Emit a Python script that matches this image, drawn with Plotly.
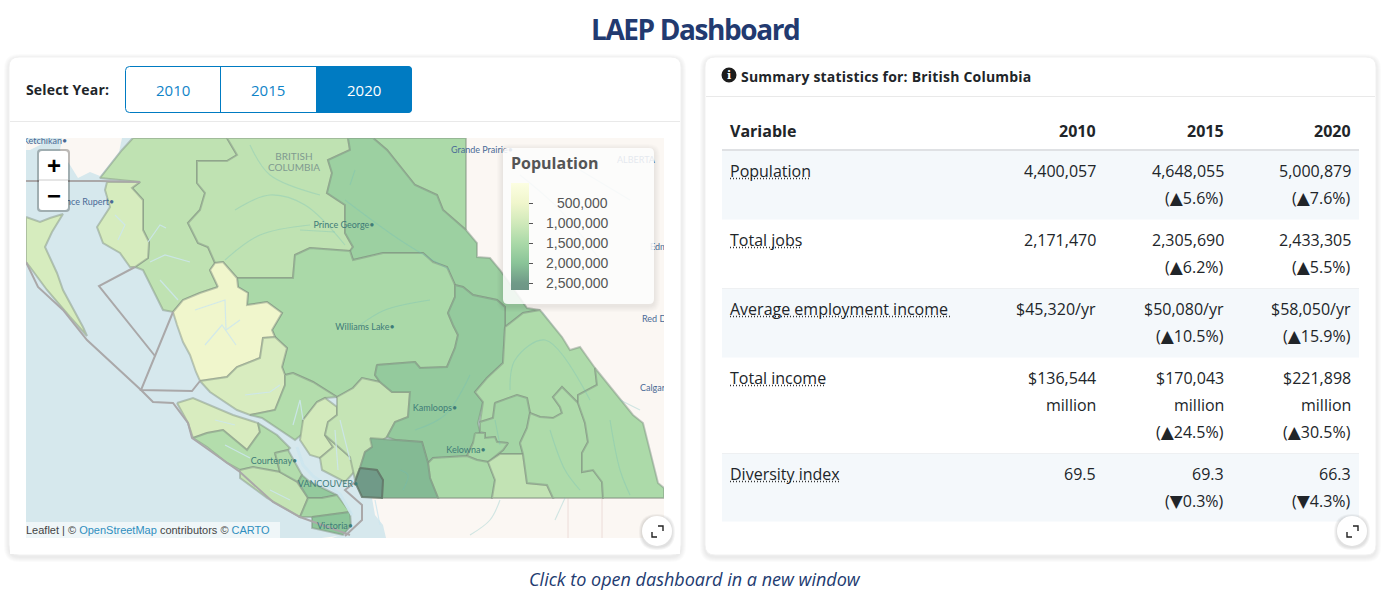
import plotly.graph_objects as go
from plotly.colors import sample_colorscale

# ---------- DATA ----------
dashboard_title = "LAEP Dashboard"
caption = "Click to open dashboard in a new window"
years = ["2010", "2015", "2020"]
selected_year = "2020"
card_heading = "Summary statistics for: British Columbia"

table_variables = ["Population", "Total jobs", "Average employment income", "Total income", "Diversity index"]
table_2010 = [["4,400,057"], ["2,171,470"], ["$45,320/yr"], ["$136,544", "million"], ["69.5"]]
table_2015 = [["4,648,055", "(▲5.6%)"], ["2,305,690", "(▲6.2%)"], ["$50,080/yr", "(▲10.5%)"],
              ["$170,043", "million", "(▲24.5%)"], ["69.3", "(▼0.3%)"]]
table_2020 = [["5,000,879", "(▲7.6%)"], ["2,433,305", "(▲5.5%)"], ["$58,050/yr", "(▲15.9%)"],
              ["$221,898", "million", "(▲30.5%)"], ["66.3", "(▼4.3%)"]]

legend_ticks = [500000, 1000000, 1500000, 2000000, 2500000]
legend_max = 2675000
scale_values = [0, 500000, 1000000, 1500000, 2000000, 2500000, 2675000]
scale_colors = ["rgb(252,254,226)", "rgb(240,246,204)", "rgb(208,233,186)", "rgb(170,217,168)",
                "rgb(138,196,152)", "rgb(112,154,136)", "rgb(110,150,134)"]

region_population = {
    "Kitimat-Stikine": 1230000, "Bulkley-Nechako": 1220000, "Fraser-Fort George": 1720000,
    "Peace River": 1480000, "Cariboo": 1500000, "Central Coast": 500000, "Skeena-Queen Charlotte": 900000,
    "Haida Gwaii": 900000, "Mount Waddington (mainland)": 870000, "Mount Waddington (island)": 870000,
    "Strathcona (mainland)": 1380000, "Strathcona (island)": 1380000, "Powell River": 950000,
    "Sunshine Coast": 1050000, "Squamish-Lillooet": 1150000, "Thompson-Nicola": 1850000,
    "Columbia-Shuswap": 1450000, "North Okanagan": 1600000, "Central Okanagan": 1550000,
    "Okanagan-Similkameen": 1500000, "Kootenay Boundary": 1180000, "Central Kootenay": 1450000,
    "East Kootenay": 1480000, "Fraser Valley": 2120000, "Metro Vancouver": 2500000,
    "Alberni-Clayoquot": 1150000, "Comox Valley": 1400000, "Nanaimo": 1850000,
    "Cowichan": 1550000, "Capital": 1950000,
}

region_outlines = {
    "Kitimat-Stikine": [(133,138),(227,138),(237,155),(227,161),(197,161),(197,183),(205,193),(200,210),(188,223),(198,243),(208,247),(215,263),(210,270),(218,287),(200,293),(183,300),(173,312),(163,310),(153,290),(143,270),(135,267),(148,258),(149,242),(143,230),(143,200),(132,188),(140,182),(100,178),(122,150)],
    "Bulkley-Nechako": [(227,138),(348,138),(350,150),(328,160),(332,173),(327,193),(345,205),(345,233),(353,247),(350,251),(310,248),(295,255),(293,278),(237,278),(223,262),(215,263),(208,247),(198,243),(188,223),(200,210),(205,193),(197,183),(197,161),(227,161),(237,155)],
    "Peace River": [(373,138),(466,138),(466,230),(443,210),(437,195),(415,185),(403,170),(387,150)],
    "Fraser-Fort George": [(348,138),(373,138),(387,150),(403,170),(415,185),(437,195),(443,210),(466,230),(477,243),(477,257),(490,258),(500,270),(527,308),(540,310),(523,313),(505,327),(505,307),(497,300),(473,295),(463,287),(455,285),(447,267),(433,262),(423,253),(383,253),(353,260),(350,251),(353,247),(345,233),(345,205),(327,193),(332,173),(328,160),(350,150)],
    "Cariboo": [(237,278),(293,278),(295,255),(310,248),(350,251),(353,260),(383,253),(423,253),(433,262),(447,267),(455,285),(455,297),(448,313),(453,325),(458,335),(455,348),(447,367),(420,368),(415,362),(377,365),(375,375),(380,382),(362,378),(353,388),(337,397),(313,382),(293,373),(285,375),(282,367),(287,348),(275,337),(272,330),(282,313),(267,302),(247,305),(248,293),(238,287)],
    "Central Coast": [(218,287),(210,270),(215,263),(223,262),(237,278),(238,287),(248,293),(247,305),(267,302),(282,313),(272,330),(275,337),(263,338),(260,358),(237,367),(227,377),(200,381),(196,372),(190,355),(183,342),(177,325),(173,312),(183,300),(200,293)],
    "Skeena-Queen Charlotte": [(107,182),(140,182),(132,188),(143,200),(143,230),(149,242),(148,258),(135,267),(130,267),(120,253),(103,243),(97,227),(110,207),(105,190)],
    "Haida Gwaii": [(26,217),(40,222),(50,218),(63,214),(52,232),(45,247),(57,273),(63,290),(83,327),(87,336),(70,317),(47,290),(30,267),(26,262)],
    "Mount Waddington (mainland)": [(200,381),(227,377),(237,367),(260,358),(263,338),(275,337),(287,348),(282,367),(285,375),(285,385),(275,410),(250,415),(237,410),(210,392)],
    "Mount Waddington (island)": [(177,403),(193,398),(233,415),(258,423),(260,432),(247,450),(223,430),(207,433),(193,438),(188,423)],
    "Strathcona (mainland)": [(285,375),(293,373),(313,382),(337,397),(325,398),(317,402),(303,420),(305,432),(295,440),(283,432),(262,418),(250,415),(275,410),(285,385)],
    "Strathcona (island)": [(193,438),(207,433),(223,430),(247,450),(260,432),(258,423),(277,435),(290,448),(288,450),(275,453),(280,472),(253,467),(240,470),(227,463),(207,447)],
    "Powell River": [(303,420),(317,402),(325,398),(337,407),(337,415),(328,422),(325,435),(333,447),(320,458),(310,455),(300,440)],
    "Sunshine Coast": [(325,435),(340,448),(350,457),(356,470),(345,482),(322,470),(320,458),(333,447)],
    "Squamish-Lillooet": [(337,397),(353,388),(362,378),(380,382),(392,392),(410,392),(408,417),(395,422),(387,437),(372,447),(365,452),(360,468),(355,480),(350,457),(340,448),(325,435),(328,422),(337,415),(337,407)],
    "Thompson-Nicola": [(377,365),(415,362),(420,368),(447,367),(455,348),(458,335),(453,325),(448,313),(455,297),(455,285),(463,287),(473,295),(497,300),(505,307),(505,327),(503,363),(487,378),(475,392),(483,402),(478,423),(480,432),(473,443),(467,456),(433,458),(428,463),(422,442),(395,440),(387,437),(395,422),(408,417),(410,392),(392,392),(380,382),(375,375)],
    "Columbia-Shuswap": [(505,327),(523,313),(540,310),(562,337),(570,350),(580,347),(595,368),(597,385),(578,395),(578,403),(570,395),(562,387),(553,397),(560,407),(562,413),(553,418),(540,417),(530,413),(527,398),(517,395),(495,403),(493,418),(480,422),(483,402),(475,392),(487,378),(503,363)],
    "North Okanagan": [(495,403),(517,395),(527,398),(530,413),(527,428),(520,443),(523,454),(500,454),(488,462),(503,450),(508,443),(497,442),(495,437),(485,438),(485,433),(480,432),(480,422),(493,418)],
    "Central Okanagan": [(475,433),(485,433),(485,438),(495,437),(497,442),(508,443),(503,450),(488,462),(477,460),(467,456),(473,443)],
    "Okanagan-Similkameen": [(430,478),(428,463),(433,458),(467,456),(477,460),(488,462),(495,480),(492,498),(438,498)],
    "Kootenay Boundary": [(488,462),(500,454),(523,454),(527,483),(547,485),(553,498),(492,498),(495,480)],
    "Central Kootenay": [(520,443),(527,428),(530,413),(540,417),(553,418),(562,413),(560,407),(553,397),(562,387),(570,395),(578,403),(585,423),(588,442),(582,453),(582,472),(593,470),(602,482),(603,498),(553,498),(547,485),(527,483),(523,454)],
    "East Kootenay": [(595,368),(617,395),(633,415),(643,423),(652,458),(658,483),(664,488),(664,498),(603,498),(602,482),(593,470),(582,472),(582,453),(588,442),(585,423),(578,403),(578,395),(597,385)],
    "Fraser Valley": [(370,438),(395,440),(422,442),(428,463),(430,478),(438,498),(382,498),(383,480),(377,470),(360,468),(365,452),(372,447)],
    "Metro Vancouver": [(360,468),(377,470),(383,480),(382,498),(362,497),(355,482)],
    "Alberni-Clayoquot": [(240,470),(253,467),(280,472),(297,482),(308,498),(300,517),(267,498),(240,478)],
    "Comox Valley": [(275,453),(288,450),(302,475),(298,482),(280,472)],
    "Nanaimo": [(298,482),(302,475),(310,482),(337,495),(322,498),(308,498)],
    "Cowichan": [(308,498),(322,498),(337,495),(350,512),(313,517),(300,517)],
    "Capital": [(312,517),(350,512),(351,526),(343,535),(312,528)],
}

land_outlines = [
    [(466,138),(664,138),(664,488),(658,483),(652,458),(643,423),(633,415),(617,395),(595,368),(580,347),(570,350),(562,337),(543,312),(527,308),(500,270),(490,258),(477,257),(477,243),(466,230)],
    [(372,498),(664,498),(664,538),(386,538),(383,525),(375,515)],
    [(62,138),(122,138),(119,152),(100,176),(90,172),(78,178),(70,165),(60,150)],
    [(26,142),(42,144),(30,150),(26,150)],
    [(305,540),(338,536),(326,540)],
]

marine_lines = [
    [(26,181),(100,181),(140,182)],
    [(135,267),(99,286),(155,356)],
    [(173,312),(141,390),(192,391),(200,381)],
    [(26,262),(38,287),(63,310),(87,340),(141,390),(153,402),(173,403),(188,423),(192,438),(240,472),(273,502),(300,517),(350,535)],
    [(355,482),(345,490),(362,505),(362,520),(345,536)],
]

strait_channels = [
    [(297,447),(303,465),(313,476),(340,494),(352,515)],
]
water_channels = [
    [(148,242),(160,225),(166,228)],
    [(150,262),(165,255),(190,262)],
    [(160,280),(178,300)],
    [(195,310),(225,300),(226,330),(240,320)],
    [(205,345),(222,325),(236,345)],
    [(293,425),(300,400),(303,420)],
    [(245,395),(270,392),(280,385)],
    [(335,430),(338,470)],
    [(340,420),(350,460)],
    [(375,500),(380,525)],
    [(115,215),(125,225),(118,240)],
    [(215,420),(235,425)],
    [(225,445),(250,458)],
    [(270,490),(290,500)],
]
rivers = [
    [(235,210),(270,195),(305,205),(345,245)],
    [(250,145),(270,175),(320,195)],
    [(225,260),(260,235),(310,225)],
    [(300,230),(335,232)],
    [(345,200),(400,240),(450,270)],
    [(355,170),(350,185)],
    [(360,325),(385,310),(430,300)],
    [(400,470),(408,475),(403,490)],
    [(415,430),(445,415),(470,375)],
    [(510,390),(515,360),(545,340),(590,400)],
    [(550,430),(565,470),(580,490)],
    [(610,420),(620,470),(630,495)],
    [(495,420),(500,445)],
    [(555,520),(565,498)],
    [(470,535),(490,520),(500,500)],
    [(520,175),(560,210),(600,260)],
    [(580,170),(630,200)],
    [(620,400),(640,410)],
]
state_lines = [[(372,498),(664,498)], [(568,498),(568,538)], [(602,498),(602,538)]]

city_labels = ["Ketchikan•", "nce Rupert•", "Grande Prairie•", "ALBERTA", "Edmo", "Red Deer", "Calgary"]
city_x = [23, 66, 451, 617, 650, 642, 640]
city_y = [142, 203, 151, 161, 248, 320, 389]
bc_labels = ["BRITISH", "COLUMBIA", "Prince George•", "Williams Lake•", "Kamloops•", "Kelowna•", "Courtenay•", "VANCOUVER•", "Victoria•"]
bc_x = [294, 294, 344, 365, 435, 466, 274, 328, 335]
bc_y = [157, 168, 226, 328, 409, 451, 462, 485, 527]

# ---------- HELPERS ----------
NAVY = "#223a70"
INK = "#212529"
T_FONT = "Open Sans"

stops_rev = [((legend_max - v) / legend_max, c) for v, c in zip(scale_values, scale_colors)][::-1]
colorscale = [[p, c] for p, c in stops_rev]


def pop_color(v):
    return sample_colorscale(colorscale, [(legend_max - v) / legend_max], colortype="rgb")[0]


def rrect(x0, y0, x1, y1, r):
    return (f"M{x0+r},{y0} L{x1-r},{y0} Q{x1},{y0} {x1},{y0+r} L{x1},{y1-r} Q{x1},{y1} {x1-r},{y1} "
            f"L{x0+r},{y1} Q{x0},{y1} {x0},{y1-r} L{x0},{y0+r} Q{x0},{y0} {x0+r},{y0} Z")


shapes, annotations = [], []


def add_path(path, fill="rgba(0,0,0,0)", line=None, width=0, layer="below"):
    shapes.append(dict(type="path", path=path, xref="x", yref="y", fillcolor=fill, layer=layer,
                       line=dict(color=line or "rgba(0,0,0,0)", width=width)))


def add_rect(x0, y0, x1, y1, fill, layer="below"):
    shapes.append(dict(type="rect", xref="x", yref="y", x0=x0, y0=y0, x1=x1, y1=y1, fillcolor=fill,
                       layer=layer, line=dict(width=0)))


def add_line(x0, y0, x1, y1, color, width=1, dash="solid", layer="below"):
    shapes.append(dict(type="line", xref="x", yref="y", x0=x0, y0=y0, x1=x1, y1=y1, layer=layer,
                       line=dict(color=color, width=width, dash=dash)))


def add_text(x, y, text, size, color=INK, anchor="left", family=T_FONT):
    annotations.append(dict(x=x, y=y, xref="x", yref="y", text=text, showarrow=False, xanchor=anchor,
                            yanchor="middle", font=dict(family=family, size=size, color=color),
                            borderpad=0, borderwidth=0))


def add_shadow(x0, y0, x1, y1, r, layer="below", spread=5, alpha=0.014, dy=2):
    for s in range(spread, 0, -1):
        add_path(rrect(x0 - s, y0 - s + dy, x1 + s, y1 + s + dy, r + s), fill=f"rgba(0,0,0,{alpha})", layer=layer)


def tri(t):
    return (t.replace("▲", '<span style="font-family:DejaVu Sans;font-size:17px">▲</span>')
             .replace("▼", '<span style="font-family:DejaVu Sans;font-size:17px">▼</span>'))


# ---------- CARDS ----------
for x0, x1 in [(9, 681), (705, 1376)]:
    add_shadow(x0, 57, x1, 555, 10)
    add_path(rrect(x0, 57, x1, 555, 10), fill="white", line="#f1f1f1", width=1)
add_line(10, 121.5, 680, 121.5, "#e9e9e9", 1)
add_line(706, 96.5, 1375, 96.5, "#e9e9e9", 1)

add_text(695, 29, f'<span style="letter-spacing:-1.4px"><b>{dashboard_title}</b></span>', 28, NAVY, "center")
add_text(695, 579, f"<i>{caption}</i>", 18, NAVY, "center")

# year selector
add_text(26, 89.5, '<span style="letter-spacing:0.15px"><b>Select Year:</b></span>', 14)
btn_x = [125.5, 220.5, 316, 411.5]
add_path(rrect(125.5, 66.5, 411.5, 112.5, 4), fill="white", line="#007bc2", width=1)
add_path("M316,66 L408,66 Q412,66 412,70 L412,109 Q412,113 408,113 L316,113 Z", fill="#007bc2")
add_line(220.5, 67, 220.5, 112, "#007bc2", 1)
for i, y_ in enumerate(years):
    add_text((btn_x[i] + btn_x[i + 1]) / 2, 89.5, y_, 15, "white" if y_ == selected_year else "#0f84c8", "center")

# right card header
shapes.append(dict(type="circle", xref="x", yref="y", x0=721.5, y0=67.5, x1=736.5, y1=82.5, fillcolor="#1c1c1c",
                   line=dict(width=0), layer="below"))
add_text(729, 75, "<b>i</b>", 11, "white", "center", "DejaVu Serif")
add_text(741, 76.5, f'<span style="letter-spacing:0.2px"><b>{card_heading}</b></span>', 14)

# table
col_right = [1096, 1224, 1351]
header_y = 131
add_text(730, header_y, "<b>Variable</b>", 16)
for xr, y_ in zip(col_right, years):
    add_text(xr, header_y, f"<b>{y_}</b>", 16, INK, "right")
add_line(722, 150, 1359, 150, "#dfe1e4", 2)
row_top = [151, 220, 289, 358, 454]
row_bot = [219.5, 288.5, 357.5, 453.5, 521.5]
underline_end = [811, 802, 950, 825, 840]
for i, v in enumerate(table_variables):
    if i % 2 == 0:
        add_rect(722, row_top[i], 1359, row_bot[i], "#f4f8fb")
    else:
        add_line(722, row_bot[i], 1359, row_bot[i], "#eef0f2", 1)
    y0 = row_top[i] + 20
    add_text(730, y0, v, 16)
    add_line(730, y0 + 7.5, underline_end[i], y0 + 7.5, "#333333", 1.3, "1px,2px")
    for xr, col in zip(col_right, [table_2010, table_2015, table_2020]):
        for k, t in enumerate(col[i]):
            add_text(xr, y0 + 27 * k, tri(t), 16, INK, "right")

# ---------- MAP ----------
add_rect(26, 138, 664, 538, "#d6e8ed")
traces = []
for poly in land_outlines:
    xs, ys = zip(*poly)
    traces.append(go.Scatter(x=xs, y=ys, mode="lines", fill="toself", fillcolor="#fbf7f3", line=dict(width=0), hoverinfo="skip"))
for line in state_lines:
    xs, ys = zip(*line)
    traces.append(go.Scatter(x=xs, y=ys, mode="lines", line=dict(color="#ecdcd8", width=1), hoverinfo="skip"))
for name, poly in region_outlines.items():
    xs, ys = zip(*(poly + poly[:1]))
    dark = region_population[name] >= 2400000
    traces.append(go.Scatter(x=xs, y=ys, mode="lines", fill="toself", fillcolor=pop_color(region_population[name]),
                             line=dict(color="rgba(95,115,100,0.8)" if dark else "rgba(125,140,125,0.45)", width=2),
                             name=name, hoverinfo="skip"))
for line in rivers:
    xs, ys = zip(*line)
    traces.append(go.Scatter(x=xs, y=ys, mode="lines", line=dict(color="rgba(110,190,190,0.3)", width=1.1, shape="spline"), hoverinfo="skip"))
for line in water_channels:
    xs, ys = zip(*line)
    traces.append(go.Scatter(x=xs, y=ys, mode="lines", line=dict(color="rgba(205,230,238,0.85)", width=1.2), hoverinfo="skip"))
for line in strait_channels:
    xs, ys = zip(*line)
    traces.append(go.Scatter(x=xs, y=ys, mode="lines", line=dict(color="rgba(205,230,238,0.95)", width=3), hoverinfo="skip"))
for line in marine_lines:
    xs, ys = zip(*line)
    traces.append(go.Scatter(x=xs, y=ys, mode="lines", line=dict(color="#aaa8a9", width=2), hoverinfo="skip"))
traces.append(go.Scatter(x=city_x, y=city_y, mode="text", text=city_labels, textposition="middle right",
                         textfont=dict(family="Lato", size=9, color="#4a6a96"), hoverinfo="skip"))
traces.append(go.Scatter(x=bc_x[:2], y=bc_y[:2], mode="text", text=bc_labels[:2], textposition="middle center",
                         textfont=dict(family="Lato", size=10, color="#7f9a90"), hoverinfo="skip"))
traces.append(go.Scatter(x=bc_x[2:], y=bc_y[2:], mode="text", text=bc_labels[2:], textposition="middle center",
                         textfont=dict(family="Lato", size=9, color="#3f7c78"), hoverinfo="skip"))
# invisible carrier of the colour bar (values negated so the low end sits at the top, as drawn)
traces.append(go.Scatter(
    x=[300] * len(region_population), y=[300] * len(region_population), mode="markers", hoverinfo="skip",
    marker=dict(size=1, opacity=0, color=[-v for v in region_population.values()], colorscale=colorscale,
                cmin=-legend_max, cmax=0, showscale=True,
                colorbar=dict(x=511 / 1392, xanchor="left", y=1 - 183 / 601, yanchor="top", lenmode="pixels", len=107,
                              thicknessmode="pixels", thickness=18, xpad=0, ypad=0, outlinewidth=0, borderwidth=0,
                              tickmode="array", tickvals=[-v for v in legend_ticks], ticks="outside", ticklen=4,
                              tickcolor="#555555", tickwidth=1, showticklabels=False))))

# map clip strips
add_rect(10, 122, 26, 554, "white", "above")
add_rect(664, 122, 680, 554, "white", "above")
add_rect(10, 122, 680, 138, "white", "above")
add_rect(10, 538, 680, 554, "white", "above")

# legend card
add_shadow(503, 148, 654, 304, 5, "above", spread=6, alpha=0.012, dy=2)
add_path(rrect(503, 148, 654, 304, 5), fill="rgba(255,255,255,0.86)", layer="above")
add_text(511, 163, "<b>Population</b>", 16, "#555555")
for v in legend_ticks:
    add_text(607.5, 183 + v / legend_max * 107 - 0.5, f"{v:,}", 14, "#555555", "right", "Liberation Sans")

# zoom control
add_path(rrect(37, 149, 70, 212, 4), fill="rgba(0,0,0,0.25)", layer="above")
add_path(rrect(39, 151, 68, 210, 3), fill="white", layer="above")
add_line(39, 180, 68, 180, "#cccccc", 1, layer="above")
add_text(53.5, 165, "<b>+</b>", 24, "black", "center", "Liberation Sans")
add_text(53.5, 195, "<b>−</b>", 24, "black", "center", "Liberation Sans")

# attribution
add_rect(26, 522, 280, 538, "rgba(255,255,255,0.6)", "above")
add_text(26, 530, 'Leaflet | © <span style="color:#2f8fbf">OpenStreetMap</span> contributors © '
         '<span style="color:#2f8fbf">CARTO</span>', 11, "#444444", "left", "Liberation Sans")

# expand buttons
for cx in (657, 1352):
    cy = 531
    add_shadow(cx - 15, cy - 15, cx + 15, cy + 15, 15, "above", spread=3, alpha=0.04, dy=1)
    shapes.append(dict(type="circle", xref="x", yref="y", x0=cx - 15, y0=cy - 15, x1=cx + 15, y1=cy + 15,
                       fillcolor="white", line=dict(width=0), layer="above"))
    add_path(f"M{cx+1},{cy-5} L{cx+6},{cy-5} L{cx+6},{cy}", line="#222222", width=1.4, layer="above")
    add_path(f"M{cx-5},{cy+1} L{cx-5},{cy+6} L{cx},{cy+6}", line="#222222", width=1.4, layer="above")

fig = go.Figure(traces)
fig.update_layout(
    width=1392, height=601, margin=dict(l=0, r=0, t=0, b=0), showlegend=False,
    paper_bgcolor="white", plot_bgcolor="white", shapes=shapes, annotations=annotations,
    xaxis=dict(range=[0, 1392], visible=False, fixedrange=True),
    yaxis=dict(range=[601, 0], visible=False, fixedrange=True),
)
fig.write_html("out.html", config={"displayModeBar": False},
               post_script="document.body.style.margin='0';document.body.style.overflow='hidden';")
